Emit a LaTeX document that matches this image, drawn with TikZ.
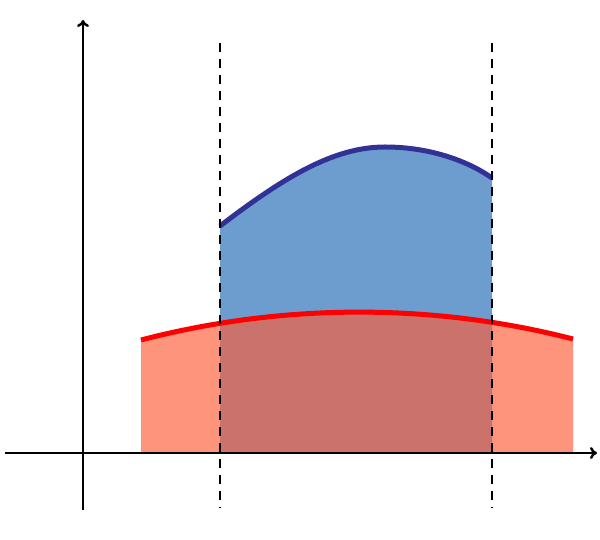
\documentclass[tikz,border=0pt]{standalone}
\usepackage{tikz}
\usetikzlibrary{arrows.meta}
\definecolor{bluefill}{RGB}{108,157,206}
\definecolor{blueline}{RGB}{50,50,150}
\definecolor{redfill}{RGB}{255,93,58}

\begin{document}
\begin{tikzpicture}[x = 0.5pt, y = 0.5pt, curve/.style = {line width = 2.5pt}]

		\useasboundingbox (-83, -87) rectangle (517, 453);

		% blue area
		\fill[bluefill] (137, 0) -- (137, 227) .. controls (200, 275) and (250, 306) .. (302, 306)
			.. controls (350, 306) and (388, 290) .. (409, 275) -- (409, 0) -- cycle;
		\draw[curve, blueline] (137, 227) .. controls (200, 275) and (250, 306) .. (302, 306)
			.. controls (350, 306) and (388, 290) .. (409, 275);

		% red area
		\fill[redfill, fill opacity = 0.66] (58, 0) -- (58, 113) .. controls (200, 150) and (350, 150) .. (490, 114) -- (490, 0) -- cycle;
		\draw[curve, red] (58, 113) .. controls (200, 150) and (350, 150) .. (490, 114);

		\draw[line width = 1.2pt, -{To[length = 3.5pt, width = 6pt]}] (-78, 0) -- (514, 0);
		\draw[line width = 1.2pt, -{To[length = 3.5pt, width = 6pt]}] (0, -57) -- (0, 433);

		\foreach \x in {137, 409}
			\draw[line width = 1.3pt, dash pattern = on 4.5pt off 3.5pt] (\x, 410) -- (\x, -55);

	\end{tikzpicture}
\end{document}
